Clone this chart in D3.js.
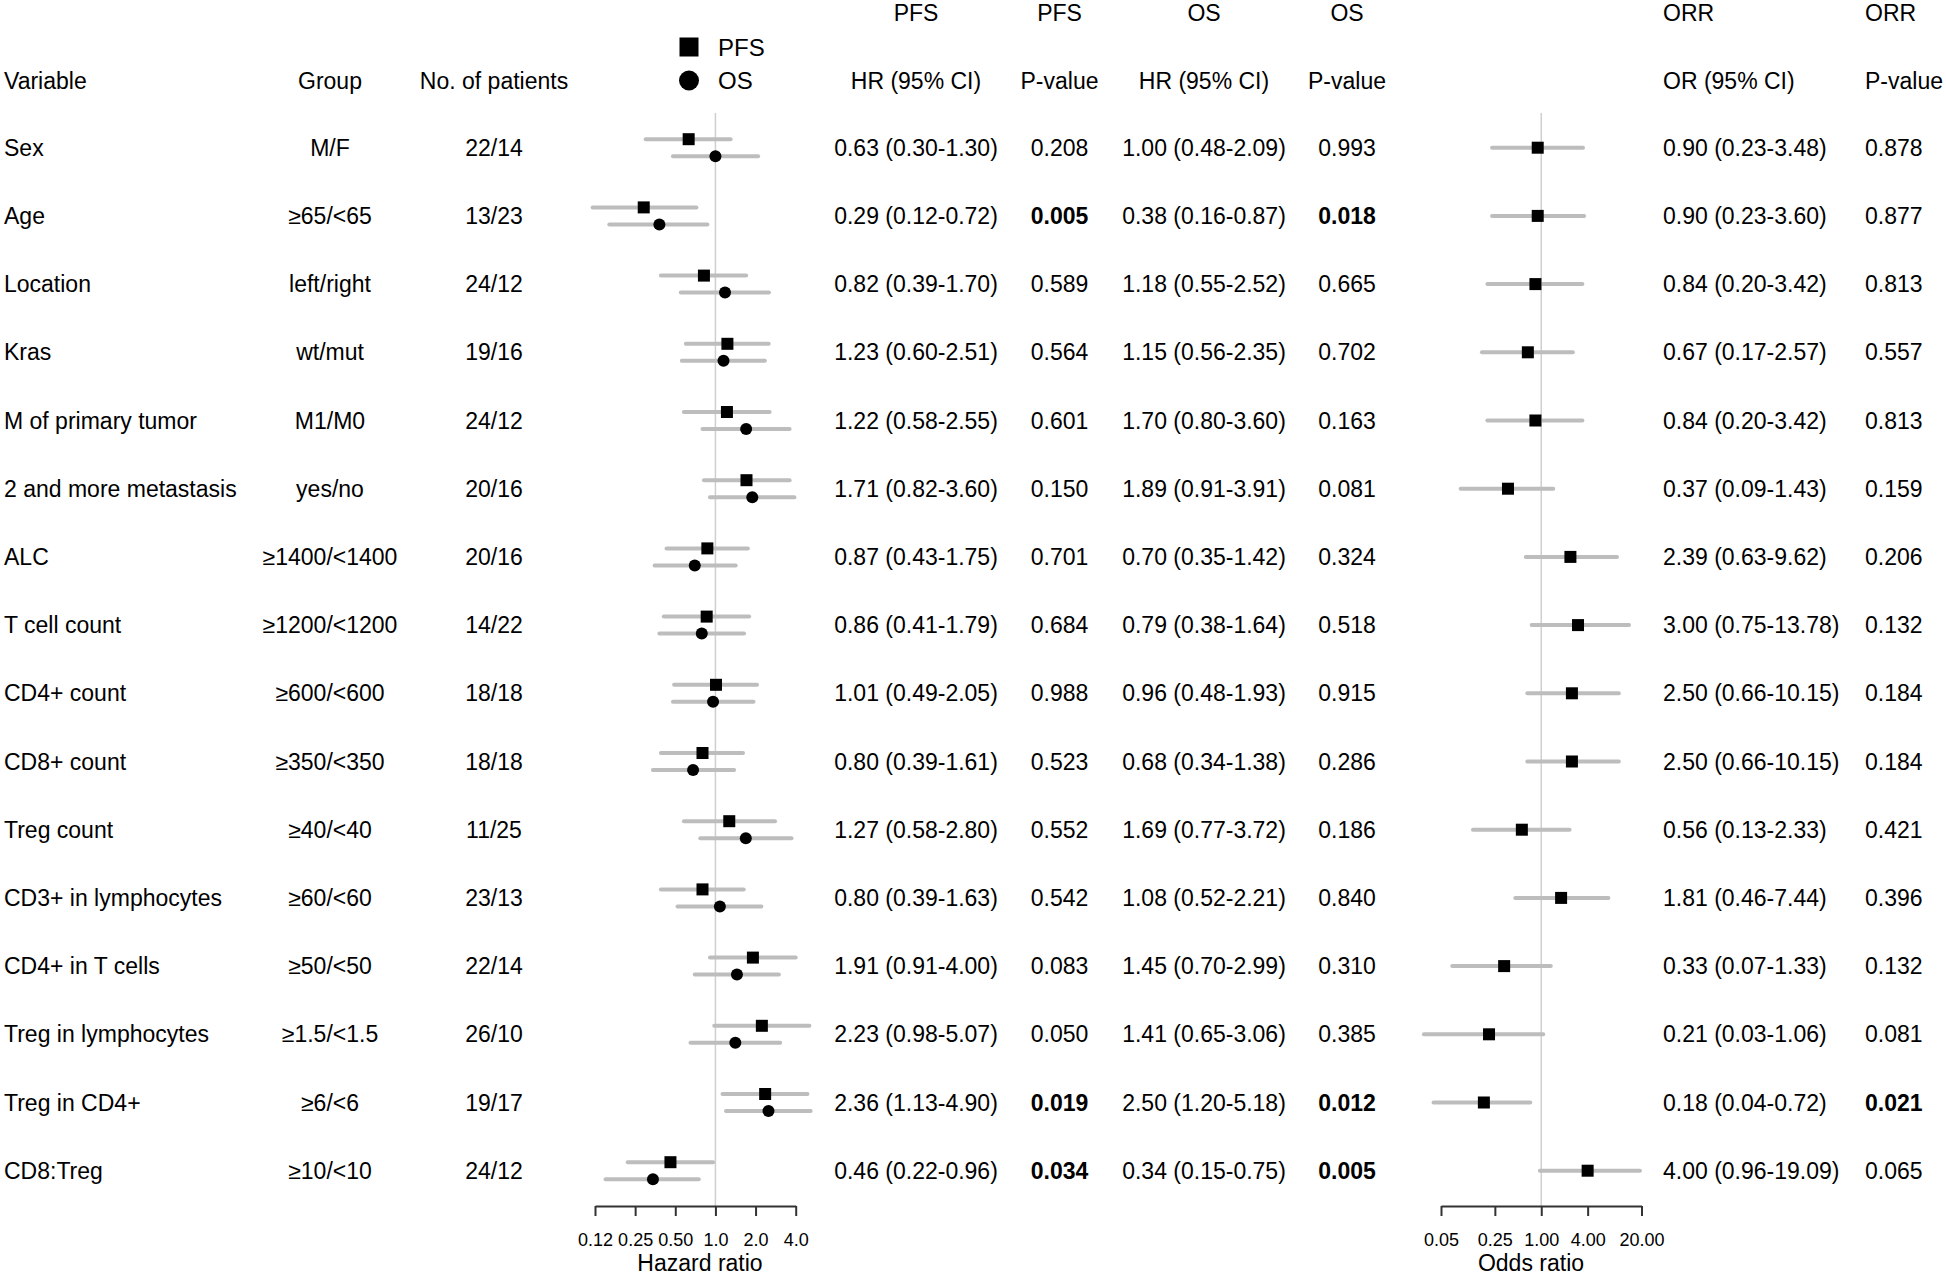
<!DOCTYPE html>
<html><head><meta charset="utf-8">
<script src="https://cdn.jsdelivr.net/npm/d3@7"></script>
<style>
body{margin:0;background:#fff;}
text{font-family:"Liberation Sans",Arial,Helvetica,sans-serif;fill:#000;}
</style></head>
<body>
<svg id="chart" width="1946" height="1276"></svg>
<script>
const variables = ["Sex","Age","Location","Kras","M of primary tumor","2 and more metastasis","ALC","T cell count","CD4+ count","CD8+ count","Treg count","CD3+ in lymphocytes","CD4+ in T cells","Treg in lymphocytes","Treg in CD4+","CD8:Treg"];
const groups = ["M/F","≥65/<65","left/right","wt/mut","M1/M0","yes/no","≥1400/<1400","≥1200/<1200","≥600/<600","≥350/<350","≥40/<40","≥60/<60","≥50/<50","≥1.5/<1.5","≥6/<6","≥10/<10"];
const patients = ["22/14","13/23","24/12","19/16","24/12","20/16","20/16","14/22","18/18","18/18","11/25","23/13","22/14","26/10","19/17","24/12"];

const pfsHR = [0.63,0.29,0.82,1.23,1.22,1.71,0.87,0.86,1.01,0.80,1.27,0.80,1.91,2.23,2.36,0.46];
const pfsLo = [0.30,0.12,0.39,0.60,0.58,0.82,0.43,0.41,0.49,0.39,0.58,0.39,0.91,0.98,1.13,0.22];
const pfsHi = [1.30,0.72,1.70,2.51,2.55,3.60,1.75,1.79,2.05,1.61,2.80,1.63,4.00,5.07,4.90,0.96];
const pfsP  = ["0.208","0.005","0.589","0.564","0.601","0.150","0.701","0.684","0.988","0.523","0.552","0.542","0.083","0.050","0.019","0.034"];

const osHR = [1.00,0.38,1.18,1.15,1.70,1.89,0.70,0.79,0.96,0.68,1.69,1.08,1.45,1.41,2.50,0.34];
const osLo = [0.48,0.16,0.55,0.56,0.80,0.91,0.35,0.38,0.48,0.34,0.77,0.52,0.70,0.65,1.20,0.15];
const osHi = [2.09,0.87,2.52,2.35,3.60,3.91,1.42,1.64,1.93,1.38,3.72,2.21,2.99,3.06,5.18,0.75];
const osP  = ["0.993","0.018","0.665","0.702","0.163","0.081","0.324","0.518","0.915","0.286","0.186","0.840","0.310","0.385","0.012","0.005"];

const orrOR = [0.90,0.90,0.84,0.67,0.84,0.37,2.39,3.00,2.50,2.50,0.56,1.81,0.33,0.21,0.18,4.00];
const orrLo = [0.23,0.23,0.20,0.17,0.20,0.09,0.63,0.75,0.66,0.66,0.13,0.46,0.07,0.03,0.04,0.96];
const orrHi = [3.48,3.60,3.42,2.57,3.42,1.43,9.62,13.78,10.15,10.15,2.33,7.44,1.33,1.06,0.72,19.09];
const orrP  = ["0.878","0.877","0.813","0.557","0.813","0.159","0.206","0.132","0.184","0.184","0.421","0.396","0.132","0.081","0.021","0.065"];

const hrTicks = [0.125,0.25,0.5,1,2,4];
const hrTickLabels = ["0.12","0.25","0.50","1.0","2.0","4.0"];
const orTicks = [0.05,0.25,1,4,20];
const orTickLabels = ["0.05","0.25","1.00","4.00","20.00"];

const fmt = v => v.toFixed(2);
const isBold = p => parseFloat(p) < 0.05;

const svg = d3.select("#chart");
const FS = 23;
const y = d3.scalePoint().domain(variables).range([147.7, 1170.7]);
const hr = d3.scaleLog().base(2).domain([0.125, 4]).range([595, 795.7]);
const orx = d3.scaleLog().domain([0.05, 20]).range([1441, 1641.5]);
const axisY = 1206, refTop = 113;
const ciColor = "#bdbdbd", refColor = "#cfcfcf";

function txt(x, yy, s, anchor, opts={}) {
  return svg.append("text").attr("x", x).attr("y", yy).attr("text-anchor", anchor)
    .attr("dominant-baseline", "central").attr("font-size", opts.size || FS)
    .attr("font-weight", opts.bold ? "bold" : "normal").text(s);
}

// headers
const h1 = 13, h2 = 80.7;
txt(4, h2, "Variable", "start");
txt(330, h2, "Group", "middle");
txt(494, h2, "No. of patients", "middle");
txt(916, h1, "PFS", "middle"); txt(916, h2, "HR (95% CI)", "middle");
txt(1059.5, h1, "PFS", "middle"); txt(1059.5, h2, "P-value", "middle");
txt(1204, h1, "OS", "middle"); txt(1204, h2, "HR (95% CI)", "middle");
txt(1347, h1, "OS", "middle"); txt(1347, h2, "P-value", "middle");
txt(1663, h1, "ORR", "start"); txt(1663, h2, "OR (95% CI)", "start");
txt(1865, h1, "ORR", "start"); txt(1865, h2, "P-value", "start");

// legend
svg.append("rect").attr("x", 689-9.5).attr("y", 47-9.5).attr("width", 19).attr("height", 19).attr("fill", "#000");
svg.append("circle").attr("cx", 689).attr("cy", 80.5).attr("r", 10).attr("fill", "#000");
txt(718, 47, "PFS", "start", {size: 24});
txt(718, 80.5, "OS", "start", {size: 24});

// reference lines
svg.append("line").attr("x1", hr(1)).attr("x2", hr(1)).attr("y1", refTop).attr("y2", axisY)
  .attr("stroke", refColor).attr("stroke-width", 1.5);
svg.append("line").attr("x1", orx(1)).attr("x2", orx(1)).attr("y1", refTop).attr("y2", axisY)
  .attr("stroke", refColor).attr("stroke-width", 1.5);

// table rows
variables.forEach((v, i) => {
  const yy = y(v);
  txt(4, yy, v, "start");
  txt(330, yy, groups[i], "middle");
  txt(494, yy, patients[i], "middle");
  txt(916, yy, `${fmt(pfsHR[i])} (${fmt(pfsLo[i])}-${fmt(pfsHi[i])})`, "middle");
  txt(1059.5, yy, pfsP[i], "middle", {bold: isBold(pfsP[i])});
  txt(1204, yy, `${fmt(osHR[i])} (${fmt(osLo[i])}-${fmt(osHi[i])})`, "middle");
  txt(1347, yy, osP[i], "middle", {bold: isBold(osP[i])});
  txt(1663, yy, `${fmt(orrOR[i])} (${fmt(orrLo[i])}-${fmt(orrHi[i])})`, "start");
  txt(1865, yy, orrP[i], "start", {bold: isBold(orrP[i])});
});

// HR forest
const off = 8.5;
const gHR = svg.append("g");
variables.forEach((v, i) => {
  const yp = y(v) - off, yo = y(v) + off;
  gHR.append("line").attr("x1", hr(pfsLo[i])).attr("x2", hr(pfsHi[i])).attr("y1", yp).attr("y2", yp)
    .attr("stroke", ciColor).attr("stroke-width", 4).attr("stroke-linecap", "round");
  gHR.append("line").attr("x1", hr(osLo[i])).attr("x2", hr(osHi[i])).attr("y1", yo).attr("y2", yo)
    .attr("stroke", ciColor).attr("stroke-width", 4).attr("stroke-linecap", "round");
  gHR.append("rect").attr("x", hr(pfsHR[i]) - 6).attr("y", yp - 6).attr("width", 12).attr("height", 12).attr("fill", "#000");
  gHR.append("circle").attr("cx", hr(osHR[i])).attr("cy", yo).attr("r", 6).attr("fill", "#000");
});

// OR forest
const gOR = svg.append("g");
variables.forEach((v, i) => {
  const yy = y(v);
  gOR.append("line").attr("x1", orx(orrLo[i])).attr("x2", orx(orrHi[i])).attr("y1", yy).attr("y2", yy)
    .attr("stroke", ciColor).attr("stroke-width", 4).attr("stroke-linecap", "round");
  gOR.append("rect").attr("x", orx(orrOR[i]) - 6).attr("y", yy - 6).attr("width", 12).attr("height", 12).attr("fill", "#000");
});

// axes
function styleAxis(g) {
  g.selectAll("path").attr("stroke", "#333").attr("stroke-width", 2);
  g.selectAll("line").attr("stroke", "#333").attr("stroke-width", 2);
  g.selectAll("text").attr("font-size", 18).attr("font-family", '"Liberation Sans",Arial,sans-serif').attr("fill", "#000");
}
const hrAxis = d3.axisBottom(hr).tickValues(hrTicks).tickFormat((d, i) => hrTickLabels[i])
  .tickSize(10).tickSizeOuter(0).tickPadding(17);
svg.append("g").attr("transform", `translate(0,${axisY})`).call(hrAxis).call(styleAxis);
const orAxis = d3.axisBottom(orx).tickValues(orTicks).tickFormat((d, i) => orTickLabels[i])
  .tickSize(10).tickSizeOuter(0).tickPadding(17);
svg.append("g").attr("transform", `translate(0,${axisY})`).call(orAxis).call(styleAxis);

txt(700, 1263, "Hazard ratio", "middle");
txt(1531, 1263, "Odds ratio", "middle");
</script>
</body></html>
